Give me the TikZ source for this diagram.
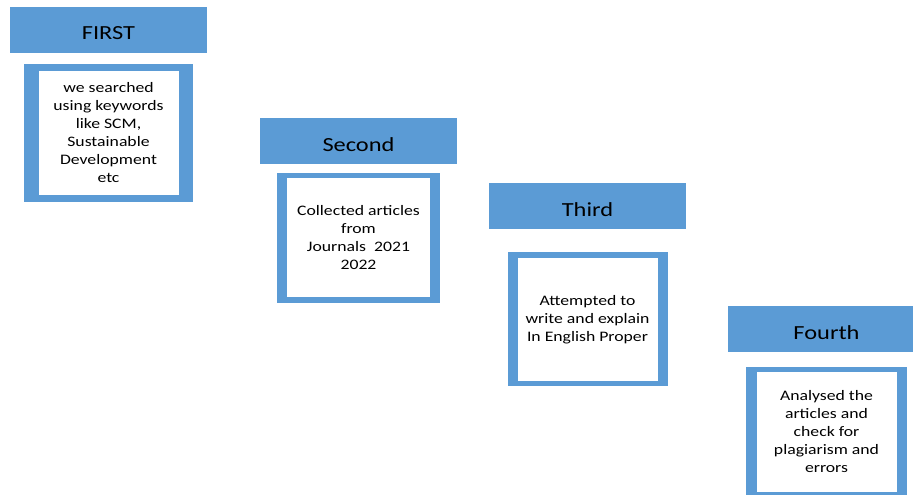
\documentclass[tikz,border=0pt]{standalone}
\usepackage{fontspec}
\setmainfont{Carlito}[FakeStretch=1.22]
\usetikzlibrary{positioning}
\definecolor{stepblue}{HTML}{5B9BD5}

\begin{document}
\begin{tikzpicture}[x=1pt, y=1pt,
        stephead/.style={rectangle, fill=stepblue, minimum width=197pt, minimum height=46pt, inner sep=0pt, text height=20pt, text depth=0pt, font=\fontsize{20}{24}\selectfont},
        stepframe/.style={rectangle, fill=stepblue, inner sep=0pt},
        stepnote/.style={rectangle, fill=white, inner sep=0pt, align=center, font=\fontsize{14.5}{18}\selectfont}]
        \useasboundingbox (0,0) rectangle (913,495);

        % Headers
        \node[stephead] (first) at (108.5,465) {FIRST};
        \node[stephead] (second) at (358.5,353.5) {Second};
        \node[stephead] (third) at (587.5,288.5) {Third};
        \node[stephead] (fourth) at (826.5,165.5) {Fourth};

        % Frames below the headers
        \node[stepframe, below of=first, node distance=103pt, minimum width=169pt, minimum height=138pt] (frame1) {};
        \node[stepframe, below of=second, node distance=96.5pt, minimum width=163pt, minimum height=130pt] (frame2) {};
        \node[stepframe, below of=third, node distance=113pt, minimum width=160pt, minimum height=134pt] (frame3) {};
        \node[stepframe, below of=fourth, node distance=102.5pt, minimum width=161pt, minimum height=130pt] (frame4) {};

        % Texts
        \node[stepnote, minimum width=140pt, minimum height=124pt] (search) at (frame1.center) {we searched\\using keywords\\like SCM,\\Sustainable\\Development\\etc};
        \node[stepnote, minimum width=143pt, minimum height=119pt] (collect) at (frame2.center) {Collected articles\\from\\Journals\ \ 2021\\2022};
        \node[stepnote, minimum width=140pt, minimum height=123pt] (explain) at (frame3.center) {Attempted to\\write and explain\\In English Proper};
        \node[stepnote, minimum width=140pt, minimum height=120pt] (analyse) at (frame4.center) {Analysed the\\articles and\\check for\\plagiarism and\\errors};
    \end{tikzpicture}
\end{document}
